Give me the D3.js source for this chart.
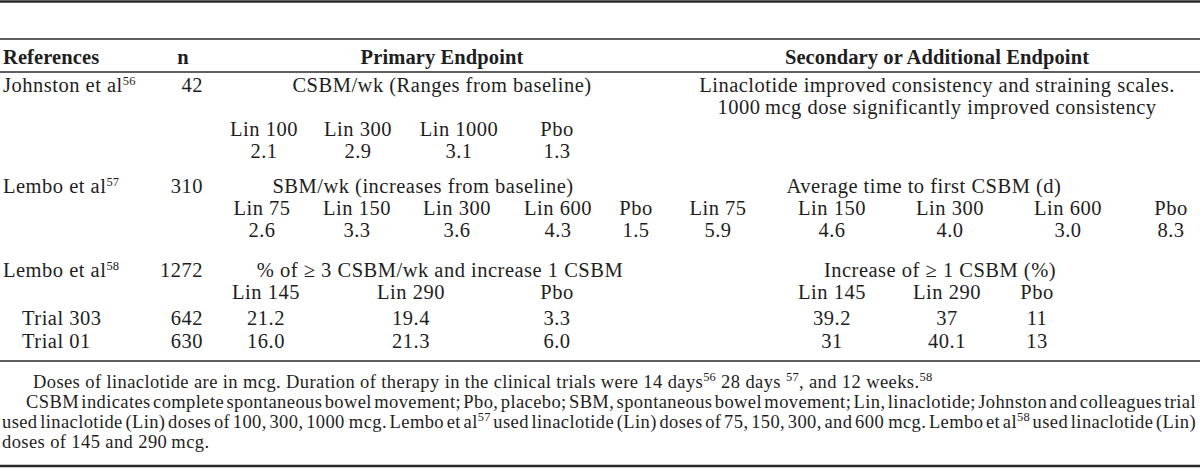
<!DOCTYPE html>
<html>
<head>
<meta charset="utf-8">
<script src="https://cdn.jsdelivr.net/npm/d3@7"></script>
<style>
  body { margin: 0; background: #fff; }
  text { font-family: "Liberation Serif", "Times New Roman", serif; font-size: 20.5px; letter-spacing: 0.5px; fill: #1e1e1e; }
  text.head { font-weight: bold; letter-spacing: 0.1px; }
  text.foot { font-size: 18.5px; letter-spacing: 0.4px; }
  .rule { stroke: #2a2a2a; }
</style>
</head>
<body>
<svg id="chart"></svg>
<script>
// table contents
const headers = ["References", "n", "Primary Endpoint", "Secondary or Additional Endpoint"];
const references = ["Johnston et al", "Lembo et al", "Lembo et al"];
const refNotes = ["56", "57", "58"];
const sampleSizes = ["42", "310", "1272"];
const primaryEndpoints = [
  "CSBM/wk (Ranges from baseline)",
  "SBM/wk (increases from baseline)",
  "% of \u2265 3 CSBM/wk and increase 1 CSBM"
];
const secondaryEndpoints = [
  ["Linaclotide improved consistency and straining scales.", "1000\u2009mcg dose significantly improved consistency"],
  ["Average time to first CSBM (d)"],
  ["Increase of \u2265 1 CSBM (%)"]
];

const johnstonArms = ["Lin 100", "Lin 300", "Lin 1000", "Pbo"];
const johnstonCsbm = ["2.1", "2.9", "3.1", "1.3"];

const lembo57Arms = ["Lin 75", "Lin 150", "Lin 300", "Lin 600", "Pbo"];
const lembo57Sbm = ["2.6", "3.3", "3.6", "4.3", "1.5"];
const lembo57Days = ["5.9", "4.6", "4.0", "3.0", "8.3"];

const lembo58Arms = ["Lin 145", "Lin 290", "Pbo"];
const trials = ["Trial 303", "Trial 01"];
const trialSizes = ["642", "630"];
const trialResponders = [["21.2", "19.4", "3.3"], ["16.0", "21.3", "6.0"]];
const trialIncrease = [["39.2", "37", "11"], ["31", "40.1", "13"]];

// each footnote line = list of [text, superscript]
const footnotes = [
  [["Doses of linaclotide are in mcg. Duration of therapy in the clinical trials were 14 days", "56"], [" 28 days ", "57"], [", and 12 weeks.", "58"]],
  [["CSBM indicates complete spontaneous bowel movement; Pbo, placebo; SBM, spontaneous bowel movement; Lin, linaclotide; Johnston and colleagues trial", ""]],
  [["used linaclotide (Lin) doses of 100, 300, 1000\u2009mcg. Lembo et al", "57"], [" used linaclotide (Lin) doses of 75, 150, 300, and 600\u2009mcg. Lembo et al", "58"], [" used linaclotide (Lin)", ""]],
  [["doses of 145 and 290\u2009mcg.", ""]]
];

// layout
const width = 1200, height = 470;

const rowY = d3.scaleOrdinal()
  .domain(["top", "rule1", "head", "rule2", "r0", "r0b", "arms0", "vals0",
           "r1", "arms1", "vals1", "r2", "arms2", "t0", "t1", "rule3",
           "f0", "f1", "f2", "f3", "bottom"])
  .range([1.5, 39, 64, 72, 92, 114, 136, 158,
          193, 215, 237, 277, 299, 325, 348, 361,
          388, 408, 428, 448, 466]);

const colX = d3.scaleOrdinal()
  .domain(["ref", "trial", "n", "nHead", "primary", "secondary"])
  .range([3, 22, 203, 183, 442, 937]);

const primaryX = [442, 423, 440];
const secondaryX = [937, 924, 940];

const johnstonX = d3.scaleOrdinal().domain(d3.range(4)).range([264, 358, 459, 557]);
const lembo57X = d3.scaleOrdinal().domain(d3.range(10))
  .range([262, 357, 457, 558, 636, 718, 832, 950, 1068, 1171]);
const lembo58X = d3.scaleOrdinal().domain(d3.range(6))
  .range([266, 411, 557, 832, 947, 1037]);

const svg = d3.select("#chart")
  .attr("width", width)
  .attr("height", height);

function label(x, y, str, anchor = "middle", cls = null) {
  return svg.append("text")
    .attr("x", x)
    .attr("y", y)
    .attr("text-anchor", anchor)
    .attr("class", cls)
    .text(str);
}

// text with superscripts
function richText(x, y, parts, cls = null) {
  const t = svg.append("text")
    .attr("x", x)
    .attr("y", y)
    .attr("class", cls);
  let raised = false;
  parts.forEach(([txt, sup]) => {
    t.append("tspan").attr("dy", raised ? 7 : 0).text(txt);
    raised = false;
    if (sup) {
      t.append("tspan")
        .attr("dy", -7)
        .style("font-size", "12.5px")
        .style("letter-spacing", "0.2px")
        .text(sup);
      raised = true;
    }
  });
  return t;
}

// rules
const rules = [["top", 2.6], ["rule1", 1.6], ["rule2", 1.3], ["rule3", 1.6], ["bottom", 2.6]];
svg.selectAll("line.rule")
  .data(rules)
  .enter().append("line")
  .attr("class", "rule")
  .attr("x1", 0)
  .attr("x2", width)
  .attr("y1", d => rowY(d[0]))
  .attr("y2", d => rowY(d[0]))
  .attr("stroke-width", d => d[1]);

// header
label(colX("ref"), rowY("head"), headers[0], "start", "head");
label(colX("nHead"), rowY("head"), headers[1], "middle", "head");
label(colX("primary"), rowY("head"), headers[2], "middle", "head");
label(colX("secondary"), rowY("head"), headers[3], "middle", "head");

// study rows
["r0", "r1", "r2"].forEach((r, i) => {
  richText(colX("ref"), rowY(r), [[references[i], refNotes[i]]]);
  label(colX("n"), rowY(r), sampleSizes[i], "end");
  label(primaryX[i], rowY(r), primaryEndpoints[i]);
  secondaryEndpoints[i].forEach((s, j) => {
    label(secondaryX[i], rowY(j === 0 ? r : "r0b"), s);
  });
});

// Johnston arms
johnstonArms.forEach((a, i) => {
  label(johnstonX(i), rowY("arms0"), a);
  label(johnstonX(i), rowY("vals0"), johnstonCsbm[i]);
});

// Lembo 57 arms, primary then secondary
lembo57Arms.concat(lembo57Arms).forEach((a, i) => {
  label(lembo57X(i), rowY("arms1"), a);
});
lembo57Sbm.concat(lembo57Days).forEach((v, i) => {
  label(lembo57X(i), rowY("vals1"), v);
});

// Lembo 58 arms and trials
lembo58Arms.concat(lembo58Arms).forEach((a, i) => {
  label(lembo58X(i), rowY("arms2"), a);
});
trials.forEach((t, k) => {
  const y = rowY("t" + k);
  label(colX("trial"), y, t, "start");
  label(colX("n"), y, trialSizes[k], "end");
  trialResponders[k].concat(trialIncrease[k]).forEach((v, i) => {
    label(lembo58X(i), y, v);
  });
});

// footnotes; lines 2 and 3 are justified to the right edge (may squeeze)
const footX = [33, 26, 2, 2];
const justifyTo = 1196;
footnotes.forEach((parts, i) => {
  const t = richText(footX[i], rowY("f" + i), parts, "foot");
  if (i === 1 || i === 2) {
    const natural = t.node().getComputedTextLength();
    const spaces = parts.map(p => p[0]).join("").split(" ").length - 1;
    t.style("word-spacing", ((justifyTo - footX[i] - natural) / spaces) + "px");
  }
});
</script>
</body>
</html>
